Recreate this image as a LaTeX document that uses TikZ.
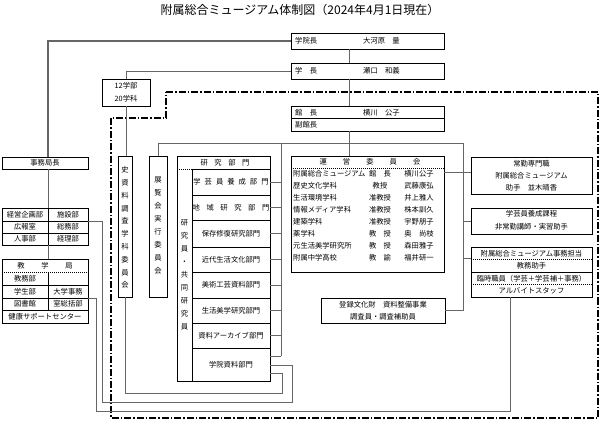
\documentclass[tikz,border=0pt]{standalone}
\usepackage{fontspec}
\setmainfont{Noto Sans CJK JP}
\usetikzlibrary{fit}
\newcommand{\gs}[1]{\hspace{#1em}}
\begin{document}
\begin{tikzpicture}[x=1pt,y=-1pt,
  bx/.style={draw=black, line width=0.8pt, inner sep=0pt, outer sep=0pt},
  cn/.style={draw=black!60, line width=0.9pt},
  cnk/.style={draw=black!60, line width=1.4pt},
  tx/.style={inner sep=0pt, font=\fontsize{7.3}{8}\selectfont},
  vt/.style={inner sep=0pt, align=center, font=\fontsize{7.3}{12.8}\selectfont},
  sep/.style={draw=black, line width=0.6pt},
  dsep/.style={draw=black, line width=0.6pt, dash pattern=on 1pt off 1pt},
  dd/.style={draw=black, line width=1.1pt, dash pattern=on 7pt off 2pt on 1.5pt off 2pt}]
\useasboundingbox (0,0) rectangle (600,422);
\node[inner sep=0pt, font=\fontsize{12}{14}\selectfont] (title) at (300,9.5) {附属総合ミュージアム体制図（2024年4月1日現在）};

% top boxes
\node[bx, fit={(291,33)(444,49)}] (gakuincho) {};
\node[tx, anchor=west] (t1) at (295,41) {学院長};
\node[tx, anchor=west] (t2) at (363,41) {大河原　量};
\node[bx, fit={(291,63)(444,79)}] (gakucho) {};
\node[tx, anchor=west] (t3) at (295,71) {学　長};
\node[tx, anchor=west] (t4) at (363,71) {瀬口　和義};
\node[bx, fit={(291,106)(444,131)}] (kancho) {};
\draw[sep] (291,118.5) -- (444,118.5);
\node[tx, anchor=west] (t5) at (295,112.3) {館　長};
\node[tx, anchor=west] (t6) at (363,112.3) {横川　公子};
\node[tx, anchor=west] (t7) at (295,124.8) {副館長};

% 12 gakubu
\node[bx, fit={(102,79)(150,106)}] (gakubu) {};
\node[tx] (t8) at (126,86) {12学部};
\node[tx] (t9) at (126,99) {20学科};

% dash-dot frame
\draw[dd] (166,92) -- (598,92) -- (598,418) -- (111,418) -- (111,118) -- (166,118) -- cycle;

% committees (vertical)
\node[bx, fit={(118,156)(132,297)}] (shiryo) {};
\node[vt] (t10) at (125,227.5) {史\\資\\料\\調\\査\\学\\科\\委\\員\\会};
\node[bx, fit={(149,156)(167,297)}] (tenran) {};
\node[vt, font=\fontsize{7.3}{13}\selectfont] (t11) at (158,225.5) {展\\覧\\会\\実\\行\\委\\員\\会};

% research departments
\node[bx, fit={(177,156)(270,381)}] (kenkyu) {};
\draw[dsep] (177,169) -- (270,169);
\draw[dsep] (192,169) -- (192,381);
\node[tx] (t12) at (225,162.5) {研\gs{0.9}究\gs{0.9}部\gs{0.9}門};
\node[vt, font=\fontsize{7.3}{13}\selectfont] (t13) at (184.5,275) {研\\究\\員\\・\\共\\同\\研\\究\\員};
\node[bx, fit={(192,169)(270,195)}] (b1) {};
\node[bx, fit={(192,195)(270,220)}] (b2) {};
\node[bx, fit={(192,220)(270,247)}] (b3) {};
\node[bx, fit={(192,247)(270,272)}] (b4) {};
\node[bx, fit={(192,272)(270,298)}] (b5) {};
\node[bx, fit={(192,298)(270,323)}] (b6) {};
\node[bx, fit={(192,323)(270,348)}] (b7) {};
\node[bx, fit={(192,348)(270,381)}] (b8) {};
\node[tx] (t14) at (b1) {学\gs{0.55}芸\gs{0.55}員\gs{0.55}養\gs{0.55}成\gs{0.55}部\gs{0.55}門};
\node[tx] (t15) at (b2) {地\gs{0.9}域\gs{0.9}研\gs{0.9}究\gs{0.9}部\gs{0.9}門};
\node[tx] (t16) at (b3) {保存修復研究部門};
\node[tx] (t17) at (b4) {近代生活文化部門};
\node[tx] (t18) at (b5) {美術工芸資料部門};
\node[tx] (t19) at (b6) {生活美学研究部門};
\node[tx] (t20) at (b7) {資料アーカイブ部門};
\node[tx] (t21) at (b8) {学院資料部門};

% steering committee
\node[bx, fit={(291,156)(444,272)}] (unei) {};
\draw[dsep] (291,168) -- (444,168);
\node[tx] (t22) at (370,162) {運\gs{2.2}営\gs{2.2}委\gs{2.2}員\gs{2.2}会};
\foreach \i/\a/\b/\c in {0/附属総合ミュージアム/館　長/横川公子,
  1/歴史文化学科/教授/武藤康弘,
  2/生活環境学科/准教授/井上雅人,
  3/情報メディア学科/准教授/株本訓久,
  4/建築学科/准教授/宇野朋子,
  5/薬学科/教　授/奥　尚枝,
  6/元生活美学研究所/教　授/森田雅子,
  7/附属中学高校/教　諭/福井研一}{
  \node[tx, anchor=west] (ra\i) at (293,174+11.9*\i) {\a};
  \node[tx] (rb\i) at (380,174+11.9*\i) {\b};
  \node[tx] (rc\i) at (419,174+11.9*\i) {\c};
}

% registered cultural property
\node[bx, fit={(321,298)(445,323)}] (toroku) {};
\node[tx] (t23) at (383,305) {登録文化財　資料整備事業};
\node[tx] (t24) at (383,316.5) {調査員・調査補助員};

% right boxes
\node[bx, fit={(471,157)(592,194)}] (jokin) {};
\node[tx] (t25) at (531.5,163.5) {常勤専門職};
\node[tx] (t26) at (531.5,175.5) {附属総合ミュージアム};
\node[tx] (t27) at (531.5,188) {助手　並木晴香};
\node[bx, fit={(471,208)(592,234)}] (yosei) {};
\node[tx] (t28) at (531.5,214) {学芸員養成課程};
\node[tx] (t29) at (531.5,227) {非常勤講師・実習助手};
\node[bx, fit={(471,247)(592,297)}] (jimutanto) {};
\draw[dsep] (471,259.5) -- (592,259.5);
\draw[sep] (471,272) -- (592,272);
\draw[dsep] (471,284.5) -- (592,284.5);
\node[tx] (t30) at (531.5,253.3) {附属総合ミュージアム事務担当};
\node[tx] (t31) at (531.5,265.8) {教務助手};
\node[tx] (t32) at (531.5,278.3) {臨時職員（学芸＋学芸補＋事務）};
\node[tx] (t33) at (531.5,291) {アルバイトスタッフ};

% left: administration
\node[bx, fit={(2,157)(88,169)}] (jimu) {};
\node[tx] (t34) at (45,163) {事務局長};
\node[bx, fit={(2,208)(88,245)}] (tab1) {};
\draw[sep] (2,221) -- (88,221);
\draw[sep] (2,233) -- (88,233);
\draw[sep] (48,208) -- (48,245);
\node[tx] (t35) at (25,214.5) {経営企画部};
\node[tx] (t36) at (68,214.5) {施設部};
\node[tx] (t37) at (25,227) {広報室};
\node[tx] (t38) at (68,227) {総務部};
\node[tx] (t39) at (25,239) {人事部};
\node[tx] (t40) at (68,239) {経理部};
\node[bx, fit={(2,259)(88,323)}] (tab2) {};
\draw[dsep] (2,272) -- (88,272);
\draw[sep] (2,285) -- (88,285);
\draw[sep] (2,298) -- (88,298);
\draw[sep] (2,310) -- (88,310);
\draw[sep] (48,272) -- (48,310);
\node[tx] (t41) at (45,265.5) {教\gs{2.3}学\gs{2.3}局};
\node[tx] (t42) at (25,278.5) {教務部};
\node[tx] (t43) at (25,291.5) {学生部};
\node[tx] (t44) at (68,291.5) {大学事務};
\node[tx] (t45) at (25,304) {図書館};
\node[tx] (t46) at (68,304) {室総括部};
\node[tx] (t47) at (45,316.5) {健康サポートセンター};

% named points
\coordinate (cx) at (349,0);
\coordinate (lx) at (48,0);
\coordinate (busT) at (281,143);
\coordinate (busB) at (281,356);
\coordinate (rt) at (463,143);
\coordinate (sA) at (88,221);
\coordinate (sB) at (88,298);
\coordinate (kA) at (0,365);
\coordinate (kB) at (0,373);
\coordinate (jt) at (510,297);

% connectors
\draw[cn] (gakuincho.south -| cx) -- (gakucho.north -| cx);
\draw[cn] (gakucho.south -| cx) -- (kancho.north -| cx);
\draw[cn] (kancho.south -| cx) -- (unei.north -| cx);
\draw[cnk] (gakuincho.west) -- (gakuincho.west -| lx) -- (jimu.north -| lx);
\draw[cn] (jimu.south -| lx) -- (tab1.north -| lx);
\draw[cn] (tab1.south -| lx) -- (tab2.north -| lx);
\draw[cn] (gakucho.west) -| (gakubu.north);
\draw[cn] (gakubu.south) -- (gakubu.south |- shiryo.north);
\draw[cn] (tenran.north) |- (rt) |- (toroku.east);
\draw[cn] (busT) -- (busB);
\foreach \b in {b1,b2,b3,b4,b5,b6,b7}{\draw[cn] (\b.east) -- (\b.east -| busT);}
\draw[cn] (b8.east |- busB) -- (busB);
\draw[cn] (unei.east |- 0,172) -- (jokin.west |- 0,172);
\draw[cn] (rt |- yosei.west) -- (yosei.west);
\draw[cn] (rt |- 0,258) -- (jimutanto.west |- 0,258);
\draw[cn] (sA) -- (102,221) -- (102,402) -- (292,402) -- (292,365) -- (b8.east |- kA);
\draw[cn] (shiryo.south) -- (125,393) -- (282,393) -- (282,373) -- (b8.east |- kB);
\draw[cn] (jt) -- (510,411) -- (96,411) -- (96,298) -- (sB);
\end{tikzpicture}
\end{document}
